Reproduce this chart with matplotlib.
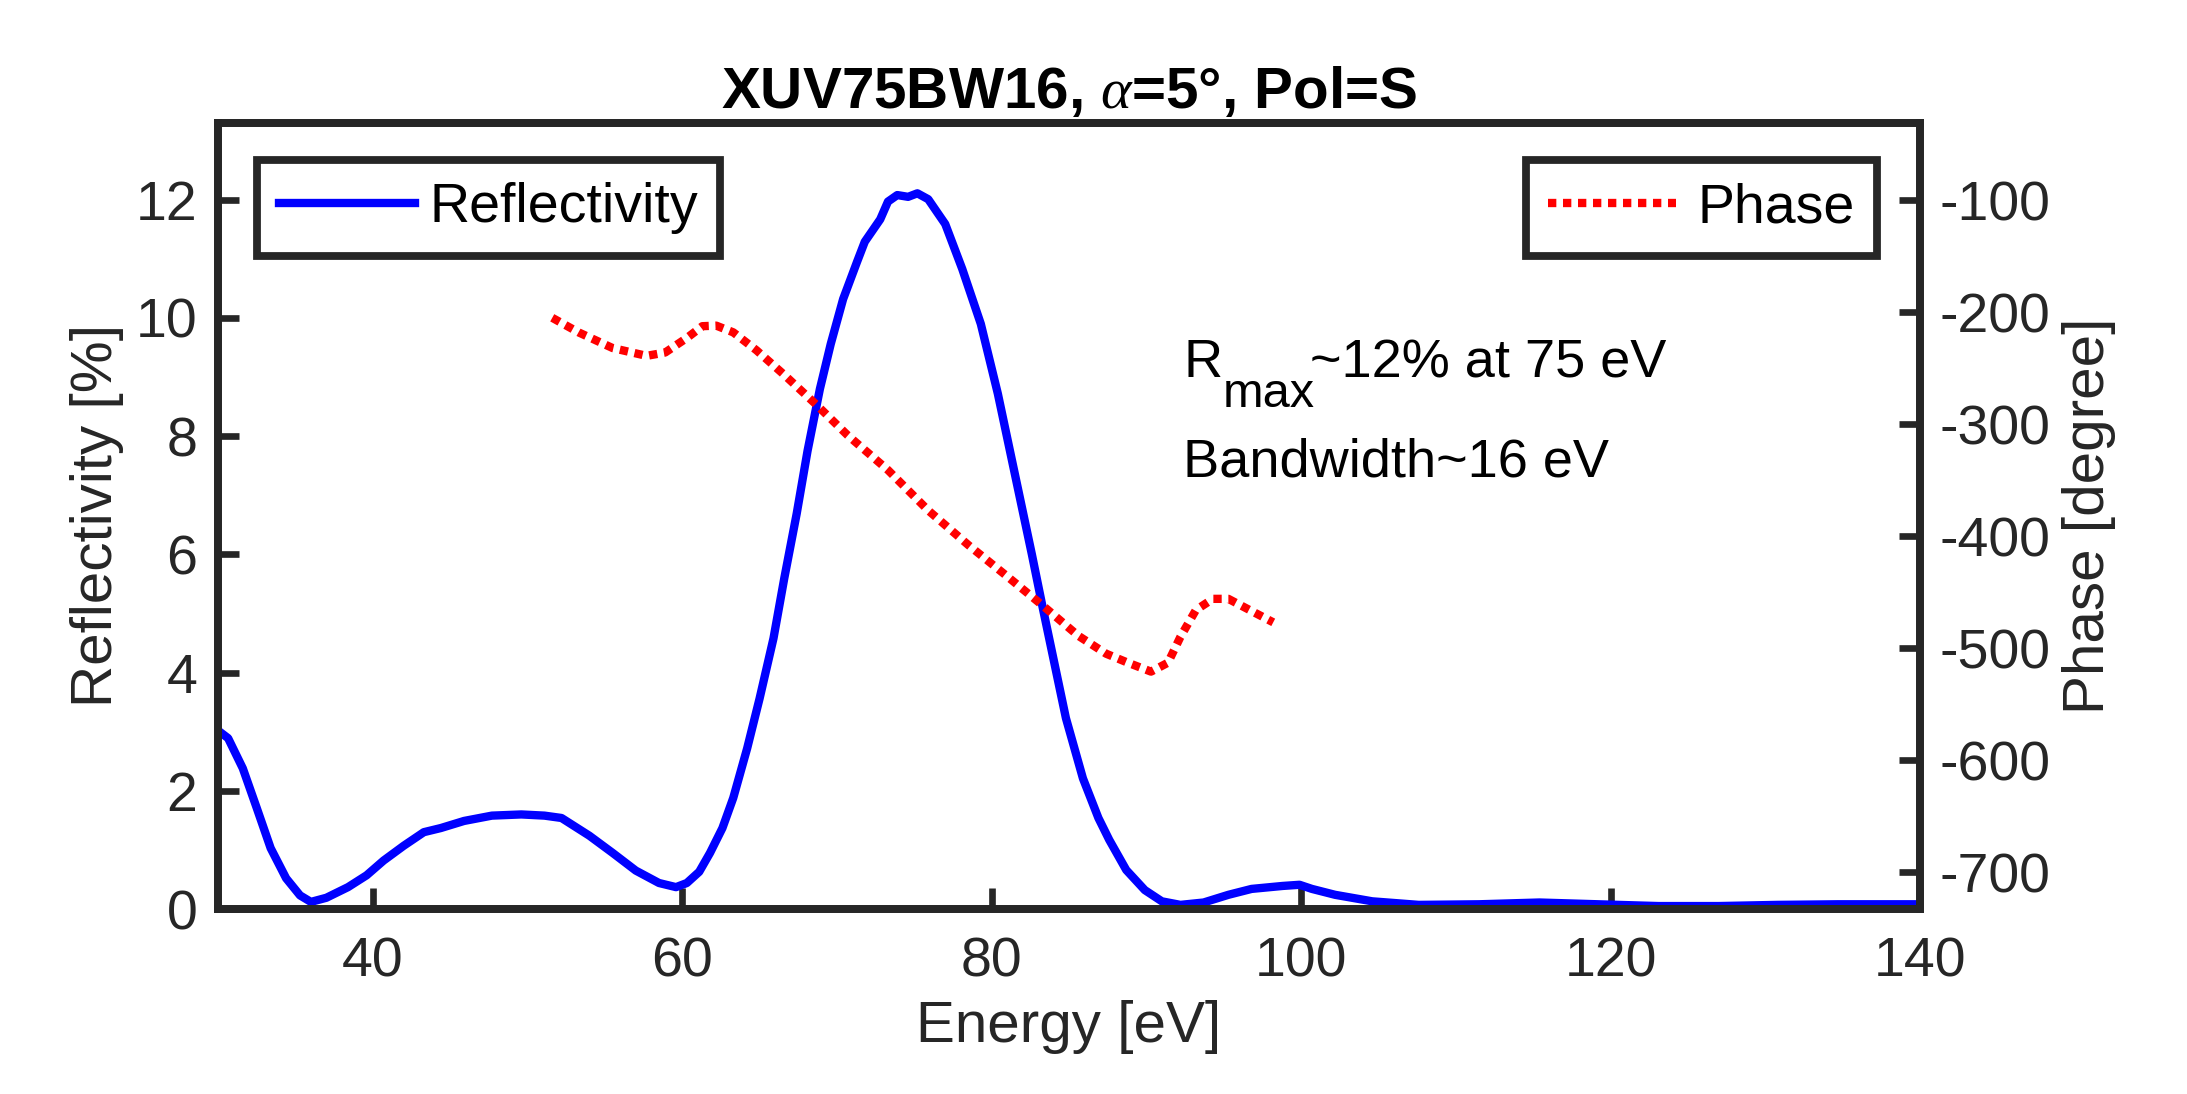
import matplotlib
matplotlib.use('Agg')
import matplotlib.pyplot as plt

plt.rcParams['font.family'] = ['Liberation Sans', 'DejaVu Sans']
plt.rcParams['mathtext.fontset'] = 'custom'
plt.rcParams['mathtext.rm'] = 'Liberation Sans'
plt.rcParams['mathtext.it'] = 'Liberation Serif:italic'
plt.rcParams['mathtext.bf'] = 'Liberation Sans:bold'
plt.rcParams['axes.unicode_minus'] = False

# reflectivity curve
energy_r = [30, 30.65, 31.6, 32.5, 33.4, 34.4, 35.3, 36.0, 37.0, 38.4, 39.6, 40.7, 42.0, 43.3,
            44.4, 45.9, 47.7, 49.6, 51.1, 52.2, 54.0, 55.5, 57.0, 58.5, 59.6, 60.3, 61.1, 61.8,
            62.6, 63.3, 64.2, 65.0, 65.9, 66.6, 67.4, 68.1, 68.9, 69.6, 70.4, 71.3, 71.8, 72.8,
            73.3, 73.9, 74.6, 75.2, 75.9, 77.0, 78.1, 79.3, 80.4, 81.5, 82.6, 83.3, 84.8, 85.9,
            86.9, 87.6, 88.7, 89.9, 91.0, 92.2, 93.7, 95.3, 96.8, 98.8, 99.9, 100.7, 102.2,
            104.6, 107.6, 111.5, 115.4, 119.2, 123.1, 127, 130.8, 134.7, 140]
refl = [3.02, 2.89, 2.38, 1.71, 1.03, 0.52, 0.23, 0.12, 0.19, 0.37, 0.57, 0.82, 1.07, 1.30,
        1.37, 1.49, 1.58, 1.60, 1.58, 1.54, 1.24, 0.95, 0.65, 0.44, 0.37, 0.44, 0.63, 0.95,
        1.37, 1.88, 2.72, 3.56, 4.58, 5.6, 6.69, 7.75, 8.8, 9.56, 10.32, 10.95, 11.29, 11.67,
        11.97, 12.08, 12.05, 12.11, 12.01, 11.59, 10.83, 9.90, 8.72, 7.36, 6.0, 5.1, 3.23, 2.21,
        1.54, 1.17, 0.66, 0.32, 0.13, 0.07, 0.11, 0.24, 0.34, 0.39, 0.41, 0.34, 0.24,
        0.13, 0.07, 0.08, 0.11, 0.08, 0.05, 0.05, 0.07, 0.08, 0.08]

# phase curve
energy_p = [51.6, 53.3, 55.5, 57.7, 58.9, 60.3, 61.3, 62.2, 63.3, 64.8, 66.6, 68.7, 70.7,
            73.3, 75.9, 78.5, 81.1, 83.3, 85.6, 87.4, 88.8, 90.3, 91.4, 92.2, 93.2, 94.3,
            95.3, 96.4, 98.2]
phase = [-205, -218, -232, -239, -236, -223, -212.5, -212, -218, -234, -256, -283, -310,
         -341, -377, -408, -437, -462, -489, -505, -513, -521, -513, -490, -466, -456,
         -456, -464, -477]

x_ticks = [40, 60, 80, 100, 120, 140]
r_ticks = [0, 2, 4, 6, 8, 10, 12]
p_ticks = [-700, -600, -500, -400, -300, -200, -100]

dark = '#262626'

fig = plt.figure(figsize=(10.935, 5.47), dpi=200)
ax = fig.add_subplot(111)
fig.subplots_adjust(left=0.0997, right=0.8779, top=0.8876, bottom=0.1691)
ax2 = ax.twinx()

l1, = ax.plot(energy_r, refl, color='#0000ff', lw=3.0, label='Reflectivity')
l2, = ax2.plot(energy_p, phase, color='#ff0000', lw=3.0, linestyle=(0, (1, 0.8)),
               label='Phase')

ax.set_xlim(30, 140)
ax.set_ylim(0, 13.3)
ax2.set_ylim(-733, -31)
ax.set_xticks(x_ticks)
ax.set_yticks(r_ticks)
ax2.set_yticks(p_ticks)

for a in (ax, ax2):
    for s in a.spines.values():
        s.set_linewidth(2.8)
        s.set_color(dark)
ax.tick_params(axis='both', direction='in', length=7.5, width=2.4, colors=dark,
               labelsize=20, top=False, right=False)
ax.tick_params(axis='x', pad=10)
ax.tick_params(axis='y', pad=7.5)
ax2.tick_params(axis='y', direction='in', length=7.5, width=2.4, colors=dark,
                labelsize=20, pad=7)

ax.set_xlabel('Energy [eV]', fontsize=21, color=dark)
ax.set_ylabel('Reflectivity [%]', fontsize=21, color=dark)
ax2.set_ylabel('Phase [degree]', fontsize=21, color=dark)
ax.set_title('XUV75BW16, $\\alpha$=5°, Pol=S', fontsize=21, fontweight='bold', pad=5.5)

leg1 = ax.legend(handles=[l1], loc='upper left', bbox_to_anchor=(0.0229, 0.953),
                 borderaxespad=0, fancybox=False, framealpha=1, edgecolor=dark,
                 fontsize=20, handlelength=2.45, handletextpad=0.25, borderpad=0.4)
leg1.get_frame().set_linewidth(2.8)
leg2 = ax2.legend(handles=[l2], loc='upper right', bbox_to_anchor=(0.975, 0.953),
                  borderaxespad=0, fancybox=False, framealpha=1, edgecolor=dark,
                  fontsize=20, handlelength=2.3, handletextpad=0.4, borderpad=0.4)
leg2.get_frame().set_linewidth(2.8)

t1 = ax.text(92.4, 9.0, 'R', fontsize=19.5, va='baseline', ha='left')
t2 = ax.annotate('max', xy=(1, 0), xycoords=t1, xytext=(0, -10.3),
                 textcoords='offset points', fontsize=17.5, va='bottom', ha='left')
ax.annotate('~12% at 75 eV', xy=(1, 0), xycoords=t1, xytext=(31.5, 0),
            textcoords='offset points', fontsize=19.5, va='bottom', ha='left')
ax.text(92.4, 7.31, 'Bandwidth~16 eV', fontsize=19.5, va='baseline', ha='left')

fig.savefig('out.png', dpi=200)
